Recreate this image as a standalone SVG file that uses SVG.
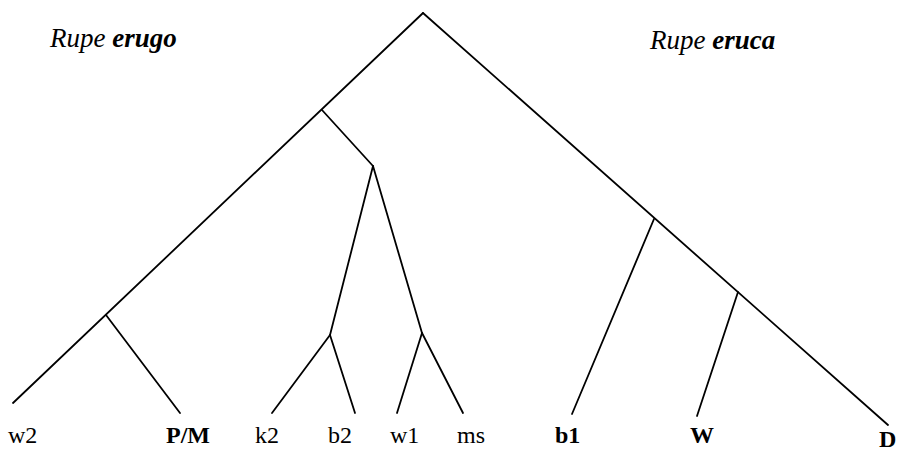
<svg xmlns="http://www.w3.org/2000/svg" width="899" height="452" viewBox="0 0 899 452">
<style>
.e{stroke:#000;stroke-width:1.8;fill:none;stroke-linecap:round}
.t{font-family:"Liberation Serif","Times New Roman",serif;font-size:24px;fill:#000}
.b{font-weight:bold}
.h{font-family:"Liberation Serif","Times New Roman",serif;font-size:27px;font-style:italic;fill:#000}
</style>
<rect width="899" height="452" fill="#fff"/>
<g id="connectors">
<line class="e" x1="423" y1="13" x2="13" y2="403"/>
<line class="e" x1="423" y1="13" x2="888" y2="425"/>
<line class="e" x1="322" y1="110" x2="373" y2="166"/>
<line class="e" x1="373" y1="166" x2="330" y2="335"/>
<line class="e" x1="373" y1="166" x2="422" y2="333"/>
<line class="e" x1="330" y1="335" x2="272" y2="413"/>
<line class="e" x1="330" y1="335" x2="355" y2="413"/>
<line class="e" x1="422" y1="333" x2="397" y2="413"/>
<line class="e" x1="422" y1="333" x2="463" y2="413"/>
<line class="e" x1="106" y1="315" x2="180" y2="413"/>
<line class="e" x1="654" y1="219" x2="572" y2="414"/>
<line class="e" x1="738" y1="292" x2="697" y2="416"/>
</g>
<g id="title-left"><text class="h" x="50" y="47">Rupe <tspan font-weight="bold">erugo</tspan></text></g>
<g id="title-right"><text class="h" x="650" y="49">Rupe <tspan font-weight="bold">eruca</tspan></text></g>
<g id="w2"><text class="t" x="8" y="443">w2</text></g>
<g id="PM"><text class="t b" x="166" y="443">P/M</text></g>
<g id="k2"><text class="t" x="255" y="443">k2</text></g>
<g id="b2"><text class="t" x="328" y="443">b2</text></g>
<g id="w1"><text class="t" x="390" y="443">w1</text></g>
<g id="ms"><text class="t" x="457" y="443">ms</text></g>
<g id="b1"><text class="t b" x="555" y="443">b1</text></g>
<g id="W"><text class="t b" x="690" y="443">W</text></g>
<g id="D"><text class="t b" x="879" y="447">D</text></g>
</svg>
